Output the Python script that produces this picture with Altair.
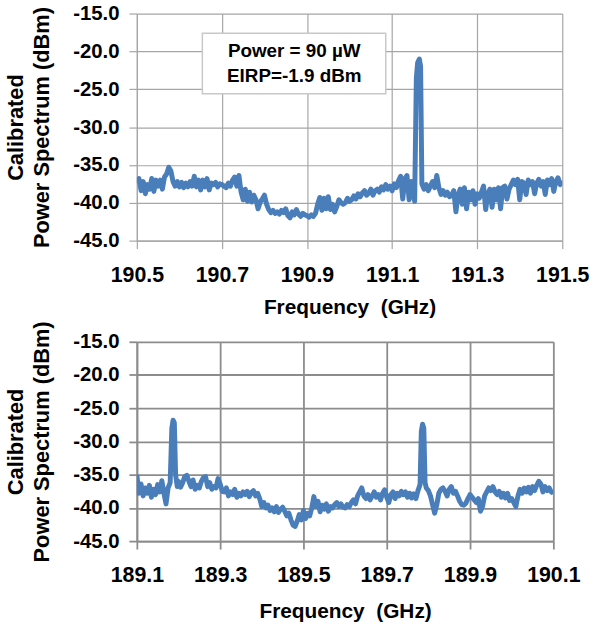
import altair as alt
import pandas as pd

# ---------------- data ----------------
top_freq = [
    190.500, 190.505, 190.510, 190.515, 190.520, 190.525, 190.530, 190.535, 190.540, 190.545,
    190.550, 190.555, 190.560, 190.565, 190.570, 190.575, 190.580, 190.585, 190.590, 190.595,
    190.600, 190.605, 190.610, 190.615, 190.620, 190.625, 190.630, 190.635, 190.640, 190.645,
    190.650, 190.655, 190.660, 190.665, 190.670, 190.675, 190.680, 190.685, 190.690, 190.695,
    190.700, 190.705, 190.710, 190.715, 190.720, 190.725, 190.730, 190.735, 190.740, 190.745,
    190.750, 190.755, 190.760, 190.765, 190.770, 190.775, 190.780, 190.785, 190.790, 190.795,
    190.800, 190.805, 190.810, 190.815, 190.820, 190.825, 190.830, 190.835, 190.840, 190.845,
    190.850, 190.855, 190.860, 190.865, 190.870, 190.875, 190.880, 190.885, 190.890, 190.895,
    190.900, 190.905, 190.910, 190.915, 190.920, 190.925, 190.930, 190.935, 190.940, 190.945,
    190.950, 190.955, 190.960, 190.965, 190.970, 190.975, 190.980, 190.985, 190.990, 190.995,
    191.000, 191.005, 191.010, 191.015, 191.020, 191.025, 191.030, 191.035, 191.040, 191.045,
    191.050, 191.055, 191.060, 191.065, 191.070, 191.075, 191.080, 191.085, 191.090, 191.095,
    191.100, 191.105, 191.110, 191.115, 191.120, 191.125, 191.130, 191.135, 191.140, 191.145,
    191.150, 191.153, 191.157, 191.160, 191.164, 191.167, 191.170, 191.175, 191.180, 191.185,
    191.190, 191.195, 191.200, 191.205, 191.210, 191.215, 191.220, 191.225, 191.230, 191.235,
    191.240, 191.245, 191.250, 191.255, 191.260, 191.265, 191.270, 191.275, 191.280, 191.285,
    191.290, 191.295, 191.300, 191.305, 191.310, 191.315, 191.320, 191.325, 191.330, 191.335,
    191.340, 191.345, 191.350, 191.355, 191.360, 191.365, 191.370, 191.375, 191.380, 191.385,
    191.390, 191.395, 191.400, 191.405, 191.410, 191.415, 191.420, 191.425, 191.430, 191.435,
    191.440, 191.445, 191.450, 191.455, 191.460, 191.465, 191.470, 191.475, 191.480, 191.485,
    191.490, 191.495, 191.500,
]
top_dbm = [
    -37.4, -36.8, -38.4, -37.2, -38.8, -37.6, -38.2, -36.8, -38.5, -37.0,
    -37.8, -37.0, -38.2, -36.6, -36.2, -35.3, -35.8, -37.2, -37.8, -37.2,
    -37.9, -37.3, -38.0, -37.4, -37.9, -37.2, -37.8, -36.5, -37.9, -37.0,
    -38.3, -37.0, -37.9, -36.8, -38.3, -37.4, -37.6, -37.3, -37.9, -37.5,
    -37.6, -37.8, -38.0, -37.4, -37.8, -37.0, -36.6, -37.8, -36.4, -38.6,
    -39.6, -38.2, -39.8, -38.6, -39.9, -39.0, -39.6, -40.8, -39.9, -39.5,
    -39.0, -40.2, -40.9, -41.3, -41.0, -41.4, -41.2, -41.5, -41.0, -41.3,
    -40.8, -41.7, -42.0, -41.2, -41.6, -40.9, -41.5, -41.8, -41.4, -41.6,
    -41.7, -41.9, -41.6, -41.8, -41.4, -40.2, -39.3, -41.0, -39.4, -40.8,
    -39.2, -40.9, -40.2, -41.2, -40.5, -39.6, -40.0, -40.2, -40.0, -39.4,
    -39.8, -39.6, -39.1, -39.5, -38.8, -39.2, -38.7, -38.4, -39.0, -38.7,
    -38.2, -39.0, -38.4, -38.2, -38.6, -37.9, -38.3, -37.6, -38.2, -37.8,
    -38.4, -37.5, -38.0, -37.1, -36.5, -39.5, -36.8, -36.4, -39.6, -37.2,
    -38.8, -39.8, -23.5, -21.5, -21.0, -22.0, -37.5, -38.2, -37.6, -38.4,
    -37.8, -37.2, -38.0, -36.4, -38.0, -38.9, -38.4, -39.0, -38.6, -39.2,
    -39.0, -38.4, -41.2, -39.0, -38.2, -40.2, -38.0, -40.8, -38.6, -39.6,
    -38.4, -40.2, -38.8, -39.4, -38.6, -37.8, -40.9, -38.8, -38.2, -40.6,
    -38.2, -39.6, -38.0, -40.8, -38.0, -37.8, -39.5, -38.2, -37.6, -37.0,
    -37.6, -36.9, -39.6, -37.2, -37.4, -38.9, -37.0, -37.6, -37.2, -38.8,
    -37.4, -36.9, -37.8, -37.2, -38.9, -37.0, -37.6, -36.8, -38.5, -37.2,
    -36.7, -37.6, -37.1,
]

bot_freq = [
    189.100, 189.105, 189.110, 189.115, 189.120, 189.125, 189.130, 189.135, 189.140, 189.145,
    189.150, 189.155, 189.160, 189.165, 189.170, 189.175, 189.180, 189.184, 189.187, 189.190,
    189.193, 189.197, 189.200, 189.205, 189.210, 189.215, 189.220, 189.225, 189.230, 189.235,
    189.240, 189.245, 189.250, 189.255, 189.260, 189.265, 189.270, 189.275, 189.280, 189.285,
    189.290, 189.295, 189.300, 189.305, 189.310, 189.315, 189.320, 189.325, 189.330, 189.335,
    189.340, 189.345, 189.350, 189.355, 189.360, 189.365, 189.370, 189.375, 189.380, 189.385,
    189.390, 189.395, 189.400, 189.405, 189.410, 189.415, 189.420, 189.425, 189.430, 189.435,
    189.440, 189.445, 189.450, 189.455, 189.460, 189.465, 189.470, 189.475, 189.480, 189.485,
    189.490, 189.495, 189.500, 189.505, 189.510, 189.515, 189.520, 189.525, 189.530, 189.535,
    189.540, 189.545, 189.550, 189.555, 189.560, 189.565, 189.570, 189.575, 189.580, 189.585,
    189.590, 189.595, 189.600, 189.605, 189.610, 189.615, 189.620, 189.625, 189.630, 189.635,
    189.640, 189.645, 189.650, 189.655, 189.660, 189.665, 189.670, 189.675, 189.680, 189.685,
    189.690, 189.695, 189.700, 189.705, 189.710, 189.715, 189.720, 189.725, 189.730, 189.735,
    189.740, 189.745, 189.750, 189.755, 189.760, 189.765, 189.770, 189.775, 189.780, 189.783,
    189.786, 189.789, 189.792, 189.795, 189.800, 189.805, 189.810, 189.815, 189.820, 189.825,
    189.830, 189.835, 189.840, 189.845, 189.850, 189.855, 189.860, 189.865, 189.870, 189.875,
    189.880, 189.885, 189.890, 189.895, 189.900, 189.905, 189.910, 189.915, 189.920, 189.925,
    189.930, 189.935, 189.940, 189.945, 189.950, 189.955, 189.960, 189.965, 189.970, 189.975,
    189.980, 189.985, 189.990, 189.995, 190.000, 190.005, 190.010, 190.015, 190.020, 190.025,
    190.030, 190.035, 190.040, 190.045, 190.050, 190.055, 190.060, 190.065, 190.070, 190.075,
    190.080, 190.085, 190.090, 190.095, 190.100,
]
bot_dbm = [
    -35.0, -37.8, -36.4, -38.2, -37.0, -37.8, -36.6, -38.4, -37.2, -38.0,
    -36.5, -37.6, -35.9, -37.8, -39.4, -37.0, -36.2, -28.0, -26.8, -27.2,
    -35.0, -36.8, -36.0, -36.9, -36.2, -35.3, -35.1, -36.0, -36.8, -35.8,
    -37.2, -36.6, -37.0, -36.0, -35.4, -35.3, -36.8, -36.2, -37.2, -36.8,
    -37.0, -35.6, -36.4, -37.5, -37.6, -37.0, -38.2, -37.6, -38.0, -37.2,
    -38.4, -37.8, -38.2, -37.6, -38.0, -37.5, -38.3, -37.7, -37.4, -38.2,
    -37.8, -38.6, -39.8, -39.2, -40.0, -39.6, -40.4, -40.0, -40.6, -39.8,
    -40.7, -40.2, -39.9, -40.5, -41.2, -40.8, -41.8, -42.6, -42.8, -42.0,
    -41.0, -41.8, -40.4, -41.6, -40.8, -41.2, -40.0, -38.3, -39.8, -39.0,
    -40.6, -39.6, -40.2, -39.4, -40.5, -39.8, -40.0, -39.5, -39.2, -39.8,
    -39.4, -39.9, -40.0, -39.5, -39.8, -39.2, -38.8, -39.4, -38.2, -37.6,
    -37.0, -38.2, -38.6, -38.0, -38.8, -38.2, -37.6, -38.4, -38.0, -38.8,
    -37.8, -37.3, -38.4, -39.2, -38.0, -37.6, -38.6, -37.8, -38.2, -37.5,
    -38.0, -37.6, -38.4, -37.8, -38.5, -37.9, -38.6, -37.4, -36.5, -28.5,
    -27.4, -28.0, -36.2, -37.0, -37.4, -38.2, -39.5, -40.8, -39.6, -37.8,
    -37.2, -37.0, -37.5, -38.2, -37.2, -36.8, -37.8, -37.5, -38.2, -39.0,
    -39.5, -39.6, -39.3, -38.6, -38.0, -38.4, -38.8, -39.2, -38.6, -40.5,
    -39.8, -38.2, -37.6, -37.0, -37.4, -36.8, -37.6, -38.0, -37.5, -38.4,
    -37.8, -38.5, -37.8, -38.9, -38.6, -39.2, -39.8, -38.2, -37.2, -37.8,
    -37.0, -37.6, -36.9, -37.8, -36.8, -37.4, -36.6, -36.0, -36.4, -37.6,
    -36.8, -37.4, -37.0, -37.6, -37.8,
]

top_xticks = [190.5, 190.7, 190.9, 191.1, 191.3, 191.5]
bot_xticks = [189.1, 189.3, 189.5, 189.7, 189.9, 190.1]
y_ticks = [-45, -40, -35, -30, -25, -20, -15]

note_lines = ["Power = 90 \u00b5W", "EIRP=-1.9 dBm"]
note_line_dbm = [-20.0, -23.3]
note_center_ghz = [190.87, 190.87]
note_box_ghz = [190.654, 191.085]
note_box_dbm = [-17.6, -25.6]

FONT = "Liberation Sans"
LINE_COLOR = "#4a7ebb"
X_TITLE = "Frequency\u00a0 (GHz)"
Y_TITLE = ["Calibrated", "Power Spectrum (dBm)"]
LABEL_EXPR = "replace(format(datum.value, '.1f'), '\u2212', '-')"


def panel(freq, dbm, xticks, w, h, grid_color, grid_width, x_title_pad, note=False):
    df = pd.DataFrame({"f": freq, "p": dbm})
    xscale = alt.Scale(domain=[xticks[0], xticks[-1]], nice=False, zero=False)
    yscale = alt.Scale(domain=[y_ticks[0], y_ticks[-1]], nice=False, zero=False)
    common = dict(gridColor=grid_color, gridWidth=grid_width,
                  tickColor=grid_color, tickWidth=grid_width, tickSize=8,
                  domainColor=grid_color, domainWidth=grid_width,
                  labelOverlap=False, labelFlush=False, labelBound=False,
                  labelExpr=LABEL_EXPR)
    xaxis = alt.Axis(values=xticks, title=X_TITLE, labelPadding=16, labelFontSize=21.5,
                     titlePadding=x_title_pad, **common)
    yaxis = alt.Axis(values=y_ticks, title=Y_TITLE, labelPadding=10, labelFontSize=20.5,
                     titlePadding=19, titleFontSize=22, titleLineHeight=27, **common)
    line = alt.Chart(df).mark_line(color=LINE_COLOR, strokeWidth=5, clip=True,
                                   strokeJoin="round").encode(
        x=alt.X("f:Q", scale=xscale, axis=xaxis),
        y=alt.Y("p:Q", scale=yscale, axis=yaxis),
    )
    layers = [line]
    if note:
        box_df = pd.DataFrame({"f1": [note_box_ghz[0]], "f2": [note_box_ghz[1]],
                               "p1": [note_box_dbm[0]], "p2": [note_box_dbm[1]]})
        box = alt.Chart(box_df).mark_rect(fill="white", stroke="#c8c8c8", strokeWidth=1.5).encode(
            x=alt.X("f1:Q", scale=xscale, axis=xaxis), x2="f2:Q",
            y=alt.Y("p1:Q", scale=yscale, axis=yaxis), y2="p2:Q")
        txt_df = pd.DataFrame({"f": note_center_ghz, "p": note_line_dbm, "t": note_lines})
        txt = alt.Chart(txt_df).mark_text(font=FONT, fontSize=19, fontWeight="bold",
                                          color="black", align="center", baseline="middle").encode(
            x=alt.X("f:Q", scale=xscale, axis=xaxis),
            y=alt.Y("p:Q", scale=yscale, axis=yaxis), text="t:N")
        layers += [box, txt]
    return alt.layer(*layers).properties(width=w, height=h)


top = panel(top_freq, top_dbm, top_xticks, 429, 229, "#a6a6a6", 1.2, 11, note=True)
bottom = panel(bot_freq, bot_dbm, bot_xticks, 420, 201, "#8c8c8c", 1.8, 15)

chart = alt.vconcat(top, bottom, spacing=2).resolve_scale(
    x="independent", y="independent"
).properties(
    padding={"left": 4, "top": 1, "right": 5, "bottom": 5},
    background="white",
).configure_view(stroke=None).configure_axis(
    labelFont=FONT, labelFontSize=20, labelFontWeight="bold", labelColor="black",
    titleFont=FONT, titleFontSize=21, titleFontWeight="bold", titleColor="black",
)

chart.save("out.html", embed_options={"renderer": "svg", "actions": False})
